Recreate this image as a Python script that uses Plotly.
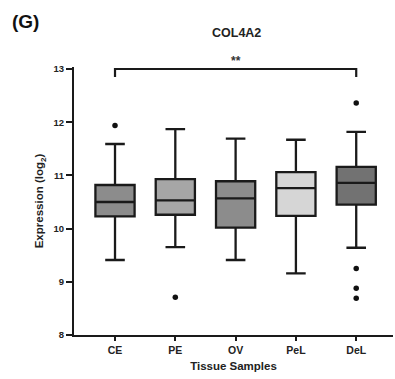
import plotly.graph_objects as go

categories = ["CE", "PE", "OV", "PeL", "DeL"]
q1 = [10.23, 10.26, 10.02, 10.24, 10.45]
median = [10.50, 10.53, 10.57, 10.76, 10.86]
q3 = [10.82, 10.93, 10.89, 11.06, 11.16]
lower = [9.41, 9.65, 9.41, 9.16, 9.64]
upper = [11.59, 11.87, 11.69, 11.67, 11.82]
outlier_cat = ["CE", "PE", "DeL", "DeL", "DeL", "DeL"]
outlier_val = [11.94, 8.71, 12.36, 9.25, 8.88, 8.69]
fills = ["#8c8c8c", "#a6a6a6", "#8c8c8c", "#d6d6d6", "#727272"]
sig_pair = ["CE", "DeL"]
sig_y = 13.0
sig_drop = 0.15
sig_label = "**"

W, H = 395, 379
L, R, T, B = 74, 2, 67, 44
pw, ph = W - L - R, H - T - B
ymax = 13 + 2 / 53.2

def px(x):
    return (x - L) / pw

def py(y):
    return 1 - (y - T) / ph

fig = go.Figure()
for i, c in enumerate(categories):
    fig.add_trace(go.Box(
        x=[c], q1=[q1[i]], median=[median[i]], q3=[q3[i]],
        lowerfence=[lower[i]], upperfence=[upper[i]],
        fillcolor=fills[i], line=dict(color="#1a1a1a", width=2.3),
        width=0.65, whiskerwidth=0.5, boxpoints=False, showlegend=False,
        hoverinfo="skip"))

fig.add_trace(go.Scatter(x=outlier_cat, y=outlier_val, mode="markers",
                         marker=dict(color="#111", size=5.5), showlegend=False,
                         cliponaxis=False))

# significance bracket
fig.add_trace(go.Scatter(x=[sig_pair[0], sig_pair[0], sig_pair[1], sig_pair[1]],
                         y=[sig_y - sig_drop, sig_y, sig_y, sig_y - sig_drop],
                         mode="lines", line=dict(color="#1a1a1a", width=2.2),
                         showlegend=False, hoverinfo="skip"))

font = "Liberation Sans, Arial, sans-serif"
dark = "#1a1a1a"

fig.update_layout(
    width=W, height=H,
    margin=dict(l=L, r=R, t=T, b=B),
    plot_bgcolor="white", paper_bgcolor="white",
    font=dict(family=font, color="#222"),
    xaxis=dict(type="category", categoryorder="array", categoryarray=categories,
               range=[-0.68, 4.61], showline=True, linecolor=dark, linewidth=2.2,
               ticks="outside", ticklen=4, tickwidth=2, tickcolor=dark,
               tickfont=dict(size=10.5, family=font, color="#222", weight="bold"),
               showgrid=False, zeroline=False,
               title=dict(text="<b>Tissue Samples</b>", font=dict(size=11.5, color="#222"), standoff=7)),
    yaxis=dict(range=[8, ymax], tickvals=[8, 9, 10, 11, 12, 13],
               showline=True, linecolor=dark, linewidth=2.2,
               ticks="outside", ticklen=6, tickwidth=2, tickcolor=dark,
               tickfont=dict(size=9.5, family=font, color="#222", weight="bold"),
               showgrid=False, zeroline=False,
               title=dict(text="<b>Expression (log<sub>2</sub>)</b>", font=dict(size=11.5, color="#222"), standoff=7)),
    annotations=[
        dict(text="<b>(G)</b>", x=px(10), y=py(22), xref="paper", yref="paper", showarrow=False,
             xanchor="left", yanchor="middle", font=dict(size=19, color="#111")),
        dict(text="<b>COL4A2</b>", x=px(236), y=py(33), xref="paper", yref="paper", showarrow=False,
             xanchor="center", yanchor="middle", font=dict(size=12.5, color="#222")),
        dict(text="<b>" + sig_label + "</b>", x="OV", y=py(61), xref="x", yref="paper", showarrow=False,
             xanchor="center", yanchor="middle", font=dict(size=12, color="#333")),
    ],
)
fig.write_html("out.html")
